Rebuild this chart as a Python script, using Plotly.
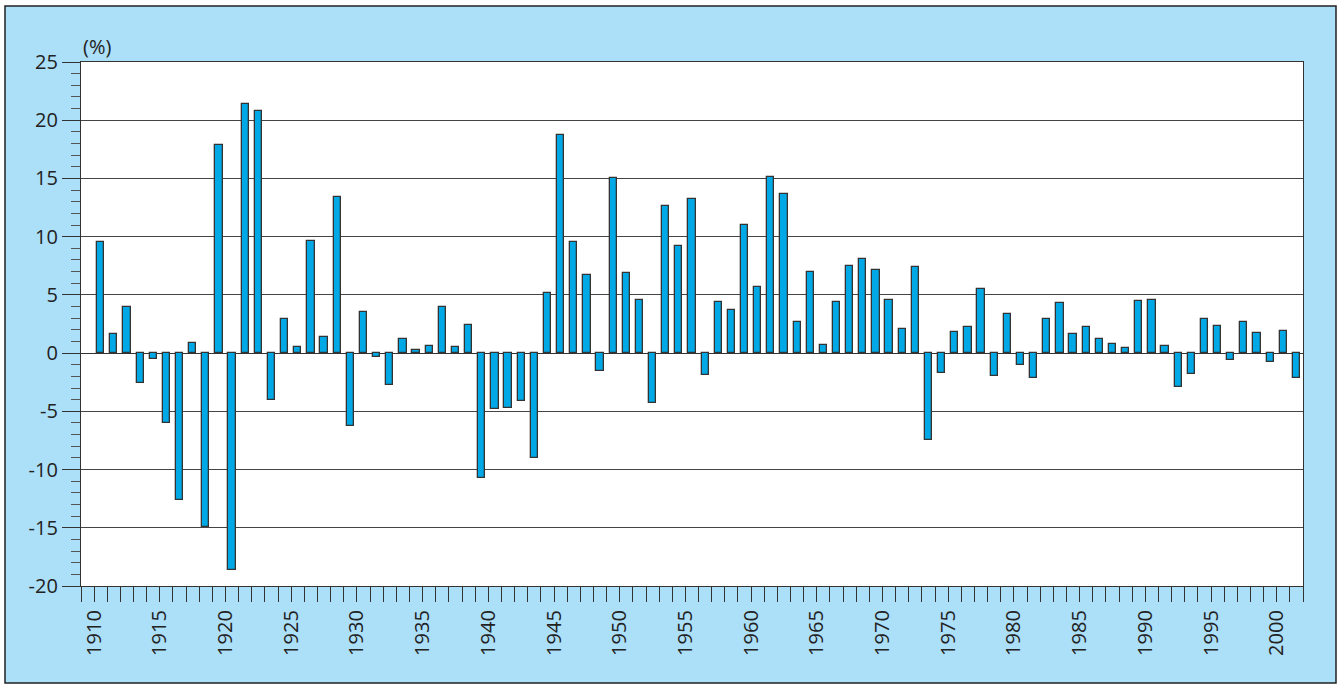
import plotly.graph_objects as go

years = list(range(1910, 2002))
values = [
    9.5, 1.6, 4.0, -2.6, -0.5, -6.0, -12.6, 0.9, -14.9, 17.9,   # 1910-1919
    -18.6, 21.4, 20.8, -4.0, 2.9, 0.5, 9.6, 1.4, 13.4, -6.3,    # 1920-1929
    3.5, -0.3, -2.7, 1.2, 0.3, 0.6, 4.0, 0.5, 2.4, -10.7,       # 1930-1939
    -4.8, -4.7, -4.1, -9.0, 5.2, 18.7, 9.5, 6.7, -1.5, 15.0,    # 1940-1949
    6.9, 4.6, -4.3, 12.6, 9.2, 13.2, -1.9, 4.4, 3.7, 11.0,      # 1950-1959
    5.7, 15.1, 13.7, 2.7, 7.0, 0.7, 4.4, 7.5, 8.1, 7.1,         # 1960-1969
    4.6, 2.1, 7.4, -7.5, -1.7, 1.8, 2.2, 5.5, -2.0, 3.4,        # 1970-1979
    -1.0, -2.1, 2.9, 4.3, 1.6, 2.2, 1.2, 0.8, 0.4, 4.5,         # 1980-1989
    4.6, 0.6, -2.9, -1.8, 2.9, 2.3, -0.6, 2.7, 1.7, -0.8,       # 1990-1999
    1.9, -2.1,                                                  # 2000-2001
]
y_unit = "(%)"
x_ticks = list(range(1909, 2003))
x_labels = [str(t) if t % 5 == 0 else "" for t in x_ticks]
y_ticks = [-20, -15, -10, -5, 0, 5, 10, 15, 20, 25]
y_labels = [str(v) for v in y_ticks]  # plain hyphen minus, as in the original

BG = "#acdff8"
BAR = "#00a8e6"
DARK = "#333333"
FONT = "Open Sans"

fig = go.Figure()
fig.add_trace(go.Bar(
    x=years, y=values,
    width=0.55, offset=0.225,
    marker=dict(color=BAR, line=dict(color=DARK, width=1.3)),
    hoverinfo="x+y",
))

L, R, T, B = 81, 41, 62, 98
W, H = 1344, 684
pw, ph = W - L - R, H - T - B

fig.update_layout(
    width=W, height=H,
    margin=dict(l=L, r=R, t=T, b=B, pad=0),
    paper_bgcolor="white", plot_bgcolor="white",
    showlegend=False, bargap=0,
    font=dict(family=FONT, color="#222222", size=20),
    xaxis=dict(
        range=[1909, 2002],
        tickmode="array", tickvals=x_ticks, ticktext=x_labels,
        ticks="outside", ticklen=15, tickwidth=1.3, tickcolor=DARK,
        tickangle=-90, tickfont=dict(size=20, family=FONT, color="#222222"),
        showgrid=False, zeroline=False,
        showline=True, linecolor=DARK, linewidth=1.3, mirror=True,
    ),
    yaxis=dict(
        range=[-20, 25],
        tickmode="array", tickvals=y_ticks, ticktext=y_labels,
        ticks="outside", ticklen=18, tickwidth=1.3, tickcolor=DARK,
        tickfont=dict(size=20, family=FONT, color="#222222"),
        showgrid=True, gridcolor="#444444", gridwidth=1.2,
        zeroline=True, zerolinecolor="#333333", zerolinewidth=1.3,
        showline=True, linecolor=DARK, linewidth=1.3, mirror=True,
        minor=dict(tickmode="linear", tick0=0, dtick=1, ticks="outside",
                   ticklen=9, tickwidth=1.2, tickcolor="#555555",
                   showgrid=False),
    ),
    annotations=[dict(
        text=y_unit, xref="paper", yref="paper",
        x=0.0, y=1.0, xanchor="left", yanchor="bottom", yshift=0,
        showarrow=False, font=dict(size=20, family=FONT, color="#222222"),
    )],
    shapes=[
        dict(
            type="rect", xref="paper", yref="paper", layer="below",
            x0=(5 - L) / pw, x1=(1336 - L) / pw,
            y0=(H - B - 683) / ph, y1=(H - B - 6) / ph,
            line=dict(color="#222222", width=1.5), fillcolor=BG,
        ),
        dict(
            type="rect", xref="paper", yref="paper", layer="below",
            x0=0, x1=1, y0=0, y1=1,
            line=dict(width=0), fillcolor="white",
        ),
    ],
)

fig.write_html(
    "out.html",
    config={"displayModeBar": False},
    post_script="document.body.style.margin='0';document.body.style.padding='0';",
)
